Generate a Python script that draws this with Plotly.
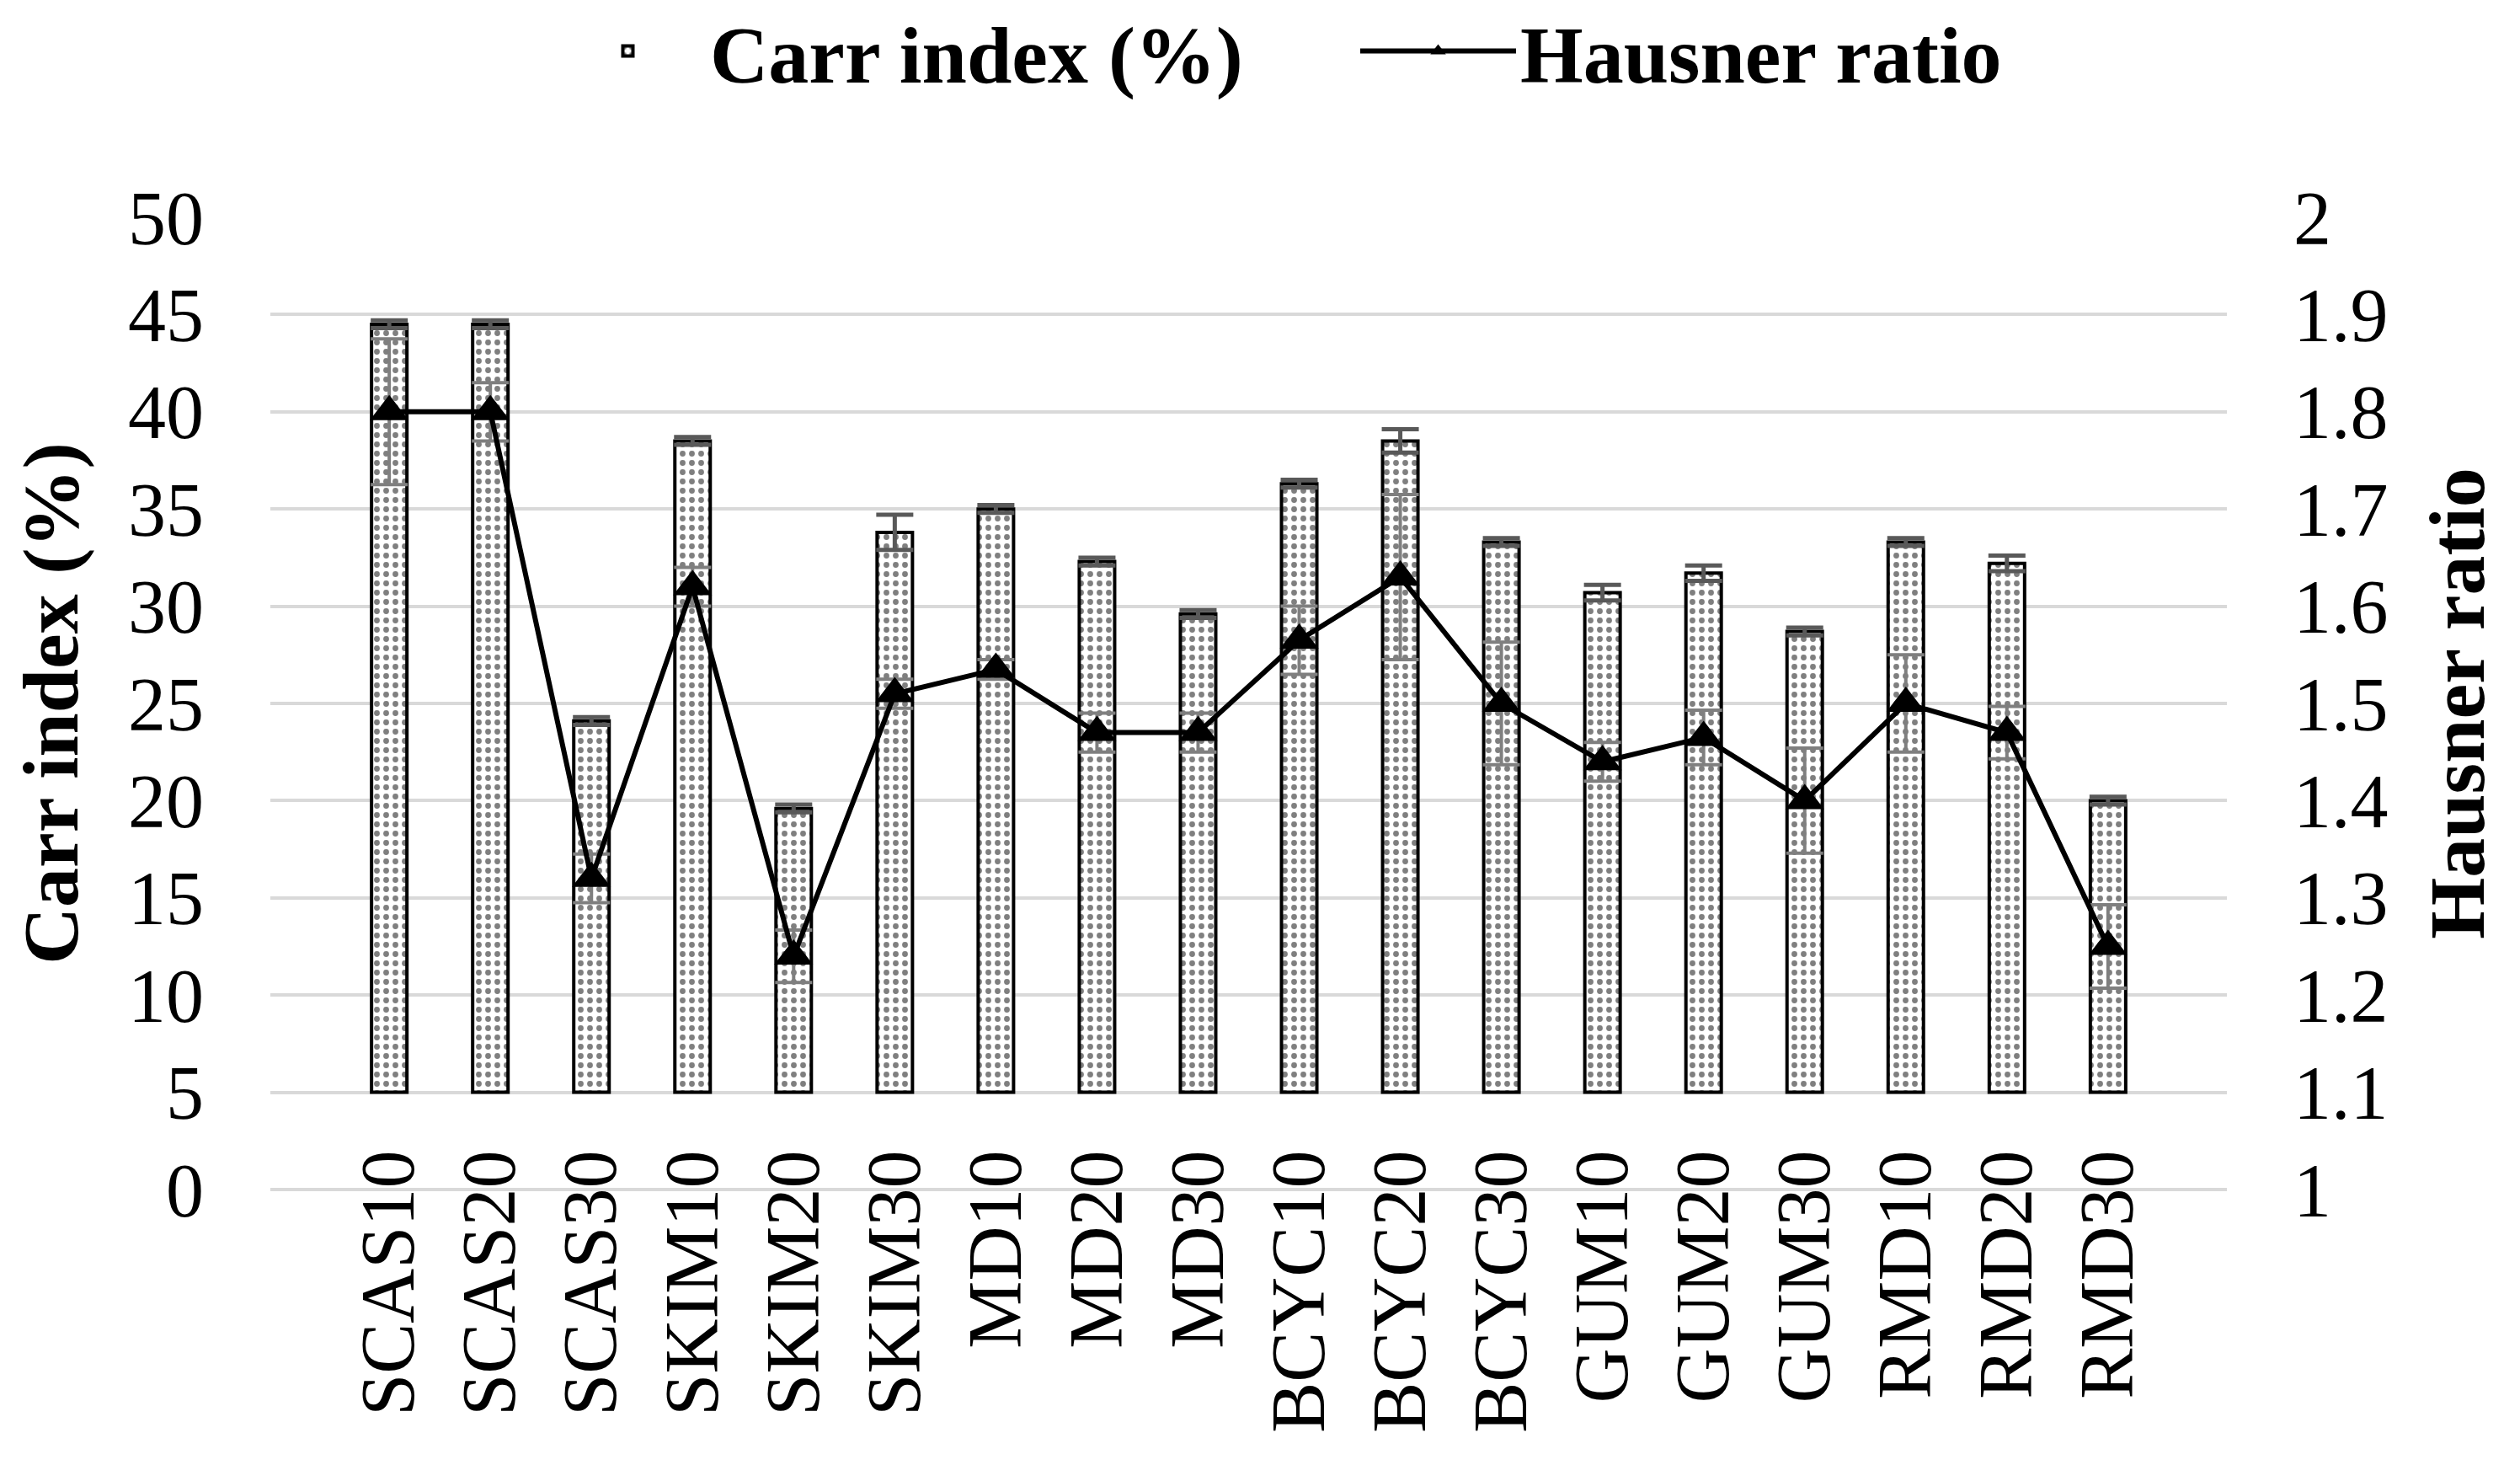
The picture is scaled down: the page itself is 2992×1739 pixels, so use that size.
import plotly.graph_objects as go

categories = ["SCAS10", "SCAS20", "SCAS30", "SKIM10", "SKIM20", "SKIM30",
              "MD10", "MD20", "MD30", "BCYC10", "BCYC20", "BCYC30",
              "GUM10", "GUM20", "GUM30", "RMD10", "RMD20", "RMD30"]
carr_index = [44.5, 44.5, 24.1, 38.5, 19.6, 33.8, 35.0, 32.3, 29.6,
              36.3, 38.5, 33.3, 30.7, 31.7, 28.7, 33.3, 32.2, 20.0]
carr_err = [0.2, 0.2, 0.2, 0.2, 0.2, 0.9, 0.2, 0.2, 0.2,
            0.2, 0.6, 0.2, 0.4, 0.4, 0.2, 0.2, 0.4, 0.2]
hausner = [1.80, 1.80, 1.32, 1.62, 1.24, 1.51, 1.535, 1.47, 1.47,
           1.565, 1.63, 1.50, 1.44, 1.465, 1.40, 1.50, 1.47, 1.25]
hausner_err = [0.075, 0.03, 0.025, 0.02, 0.027, 0.015, 0.01, 0.02, 0.02,
               0.035, 0.085, 0.063, 0.02, 0.028, 0.054, 0.05, 0.027, 0.043]

left_ticks = list(range(0, 51, 5))
right_ticks = [1, 1.1, 1.2, 1.3, 1.4, 1.5, 1.6, 1.7, 1.8, 1.9, 2]
right_tick_text = ["1", "1.1", "1.2", "1.3", "1.4", "1.5", "1.6", "1.7", "1.8", "1.9", "2"]
axis_cross = 5  # category axis crosses the value axis at 5

FONT = "Liberation Serif, Times New Roman, serif"
W, H = 2992, 1739
ML, MR, MT, MB = 313, 356, 250, 335

fig = go.Figure()

fig.add_trace(go.Bar(
    x=categories,
    y=[v - axis_cross for v in carr_index],
    base=axis_cross,
    name="Carr index (%)",
    marker=dict(
        color="white",
        line=dict(color="black", width=4),
        pattern=dict(shape=".", fgcolor="black", bgcolor="white",
                     size=11, solidity=0.3, fillmode="overlay"),
    ),
    error_y=dict(type="data", array=carr_err, visible=True,
                 color="#595959", thickness=5, width=22),
    yaxis="y",
))

fig.add_trace(go.Scatter(
    x=categories,
    y=hausner,
    name="Hausner ratio",
    mode="lines+markers",
    line=dict(color="black", width=6),
    marker=dict(symbol="triangle-up", size=40, color="black"),
    error_y=dict(type="data", array=hausner_err, visible=True,
                 color="#7f7f7f", thickness=4, width=22),
    yaxis="y2",
))

fig.update_layout(
    width=W, height=H,
    margin=dict(l=ML, r=MR, t=MT, b=MB, pad=0, autoexpand=False),
    paper_bgcolor="white",
    plot_bgcolor="white",
    font=dict(family=FONT, size=90, color="black"),
    bargap=0.65,
    showlegend=True,
    legend=dict(
        orientation="h", x=(640 - ML) / (W - ML - MR), xanchor="left",
        y=1.171, yanchor="middle",
        font=dict(family=FONT, size=96, color="black", weight="bold"),
        itemwidth=185, entrywidth=762, entrywidthmode="pixels",
        tracegroupgap=0, bgcolor="rgba(0,0,0,0)",
    ),
    xaxis=dict(
        type="category",
        anchor="free",
        position=(axis_cross - 0) / (50 - 0),
        showgrid=False, zeroline=False, showline=False,
        ticks="", tickangle=-90,
        tickfont=dict(family=FONT, size=90, color="black"),
        ticklabelstandoff=50,
    ),
    yaxis=dict(
        range=[0, 50], tickvals=left_ticks,
        showgrid=True, gridcolor="#d9d9d9", gridwidth=4,
        zeroline=True, zerolinecolor="#d9d9d9", zerolinewidth=4,
        showline=False, ticks="",
        tickfont=dict(family=FONT, size=90, color="black"),
        ticklabelstandoff=78,
        title=dict(text="Carr index (%)", standoff=30,
                   font=dict(family=FONT, size=94, color="black", weight="bold")),
    ),
    yaxis2=dict(
        range=[1, 2], tickvals=right_ticks, ticktext=right_tick_text,
        overlaying="y", side="right",
        showgrid=False, zeroline=False, showline=False, ticks="",
        tickfont=dict(family=FONT, size=90, color="black"),
        ticklabelstandoff=78,
        title=dict(text="Hausner ratio", standoff=48,
                   font=dict(family=FONT, size=94, color="black", weight="bold")),
    ),
)

fig.write_html("out.html")
